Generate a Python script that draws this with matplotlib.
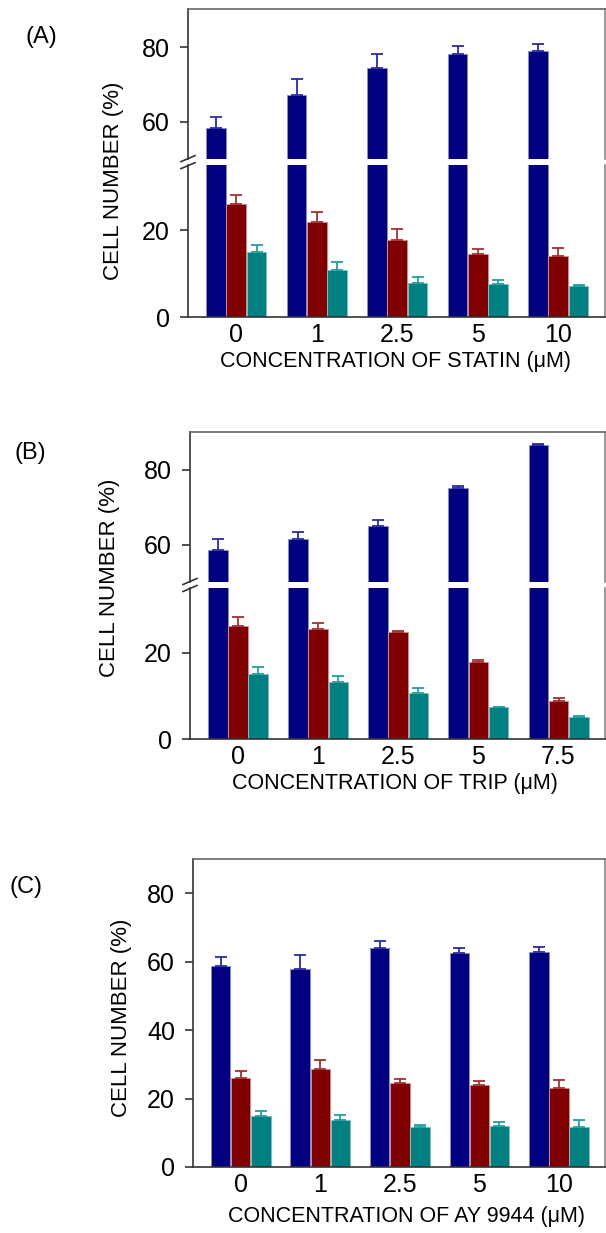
import numpy as np
import matplotlib.pyplot as plt

plt.rcParams["font.family"] = ["Liberation Sans", "DejaVu Sans"]

W, H = 606, 1233

conc_a = ["0", "1", "2.5", "5", "10"]
blue_a = [58.5, 67.2, 74.5, 78.2, 78.9]
blue_a_err = [2.9, 4.4, 3.6, 2.1, 1.9]
red_a = [26.1, 21.9, 17.7, 14.5, 14.1]
red_a_err = [1.9, 2.2, 2.5, 1.2, 1.9]
teal_a = [15.1, 10.9, 7.9, 7.6, 7.2]
teal_a_err = [1.6, 1.9, 1.4, 1.0, 0.3]

conc_b = ["0", "1", "2.5", "5", "7.5"]
blue_b = [58.5, 61.6, 64.9, 75.1, 86.7]
blue_b_err = [3.1, 1.8, 1.6, 0.7, 0.3]
red_b = [26.2, 25.6, 24.9, 17.8, 8.9]
red_b_err = [2.0, 1.3, 0.2, 0.6, 0.6]
teal_b = [15.1, 13.2, 10.8, 7.4, 5.2]
teal_b_err = [1.6, 1.5, 1.1, 0.1, 0.1]

conc_c = ["0", "1", "2.5", "5", "10"]
blue_c = [58.6, 57.8, 64.1, 62.4, 62.8]
blue_c_err = [2.9, 4.1, 2.0, 1.5, 1.5]
red_c = [26.0, 28.5, 24.4, 24.0, 23.1]
red_c_err = [2.1, 2.8, 1.2, 1.2, 2.2]
teal_c = [14.9, 13.7, 11.7, 12.1, 11.7]
teal_c_err = [1.6, 1.5, 0.7, 1.1, 2.0]

colors = ["#000080", "#800000", "#008080"]
edges = ["#8c8cc8", "#c89090", "#80c0c0"]
ecolors = ["#2a2aa8", "#a83030", "#20a0a0"]

fs_tick = 18
fs_lab = 16
bw = 0.245
step = 0.252


def fx(px):
    return px / W


def fy(py):
    return 1 - py / H


def draw_bars(ax, series, errs):
    x = np.arange(5)
    for k, (vals, err) in enumerate(zip(series, errs)):
        ax.bar(x + (k - 1) * step, vals, bw, color=colors[k],
               edgecolor=edges[k], linewidth=0.7, zorder=2)
        ax.errorbar(x + (k - 1) * step, vals, yerr=[np.zeros(5), err],
                    fmt="none", ecolor=ecolors[k], elinewidth=1.3,
                    capsize=4.5, capthick=1.3, zorder=3)
    ax.set_xlim(-0.6, 4.58)


def style(ax):
    for s in ax.spines.values():
        s.set_color("#333333")
        s.set_linewidth(1.2)
    ax.spines["right"].set_color("#888888")
    ax.spines["top"].set_color("#666666")
    ax.tick_params(axis="y", labelsize=fs_tick, length=6, width=1.2, pad=7,
                   color="#333333")
    ax.tick_params(axis="x", labelsize=fs_tick, length=0, pad=4)


def broken_panel(left, top, gap_top, gap_bot, bottom, series, errs, labels):
    ax_up = fig.add_axes([fx(left), fy(gap_top), fx(605) - fx(left),
                          fy(top) - fy(gap_top)])
    ax_lo = fig.add_axes([fx(left), fy(bottom), fx(605) - fx(left),
                          fy(gap_bot) - fy(bottom)])
    for ax in (ax_up, ax_lo):
        draw_bars(ax, series, errs)
        style(ax)
    ax_up.set_ylim(50, 90.2)
    ax_up.set_yticks([60, 80])
    ax_up.spines["bottom"].set_visible(False)
    ax_up.set_xticks([])
    ax_lo.set_ylim(0, 35)
    ax_lo.set_yticks([0, 20])
    ax_lo.spines["top"].set_visible(False)
    ax_lo.set_xticks(np.arange(5))
    ax_lo.set_xticklabels(labels)
    # break marks on the left spine
    xm = left
    ym = (gap_top + gap_bot) / 2
    for d in (-3.5, 3.5):
        fig.add_artist(plt.Line2D([fx(xm - 7), fx(xm + 7)],
                                  [fy(ym + d + 3), fy(ym + d - 3)],
                                  color="#333333", lw=1.2))
    return ax_up, ax_lo


fig = plt.figure(figsize=(W / 100, H / 100), dpi=100)

# panel A
broken_panel(188, 9, 159.3, 165, 317.3,
             [blue_a, red_a, teal_a], [blue_a_err, red_a_err, teal_a_err], conc_a)
fig.text(fx(41), fy(37), "(A)", fontsize=17, ha="center", va="center")
fig.text(fx(114), fy(181), "CELL NUMBER (%)", fontsize=fs_lab, rotation=90,
         ha="center", va="center")
fig.text(fx(396), fy(367), "CONCENTRATION OF STATIN (\u03bcM)", fontsize=fs_lab - 0.5,
         ha="center", va="baseline")

# panel B
broken_panel(190, 431.7, 582, 588, 739.3,
             [blue_b, red_b, teal_b], [blue_b_err, red_b_err, teal_b_err], conc_b)
fig.text(fx(30), fy(453), "(B)", fontsize=17, ha="center", va="center")
fig.text(fx(110), fy(578), "CELL NUMBER (%)", fontsize=fs_lab, rotation=90,
         ha="center", va="center")
fig.text(fx(395), fy(789), "CONCENTRATION OF TRIP (\u03bcM)", fontsize=fs_lab - 0.5,
         ha="center", va="baseline")

# panel C
ax_c = fig.add_axes([fx(193), fy(1167), fx(605) - fx(193), fy(859) - fy(1167)])
draw_bars(ax_c, [blue_c, red_c, teal_c], [blue_c_err, red_c_err, teal_c_err])
style(ax_c)
ax_c.set_ylim(0, 90)
ax_c.set_yticks([0, 20, 40, 60, 80])
ax_c.set_xticks(np.arange(5))
ax_c.set_xticklabels(conc_c)
fig.text(fx(26), fy(887), "(C)", fontsize=17, ha="center", va="center")
fig.text(fx(122), fy(1018), "CELL NUMBER (%)", fontsize=fs_lab, rotation=90,
         ha="center", va="center")
fig.text(fx(406), fy(1222), "CONCENTRATION OF AY 9944 (\u03bcM)", fontsize=fs_lab - 0.5,
         ha="center", va="baseline")

fig.savefig("out.png", dpi=100)
